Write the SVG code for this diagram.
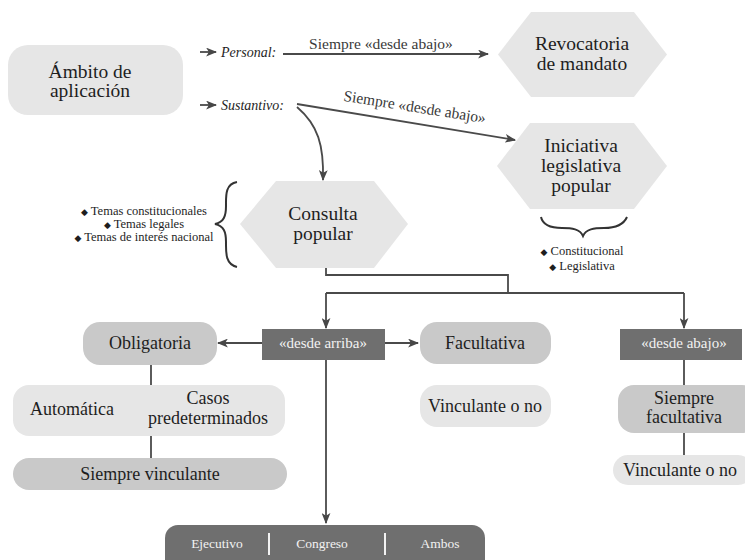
<svg xmlns="http://www.w3.org/2000/svg" width="745" height="560" viewBox="0 0 745 560" font-family="'Liberation Serif', 'DejaVu Serif', 'Times New Roman', serif">
<defs>
<marker id="ah" viewBox="0 0 10 8" refX="9" refY="4" markerWidth="11" markerHeight="9" markerUnits="userSpaceOnUse" orient="auto">
<path d="M0,0 L10,4 L0,8 L2.5,4 z" fill="#474747"/>
</marker>
<style>
text{font-family:'Liberation Serif','DejaVu Serif',serif;fill:#1e1e1e;text-anchor:middle}
.big{font-size:19.5px}
.mid{font-size:18px}
.lab{font-size:15.5px;fill:#3a3a3a}
.it{font-size:14px;font-style:italic;text-anchor:start}
.bul{font-size:12.5px}
.dia{font-size:9px}
.wt{font-size:15px;fill:#f2f2f2}
.wt2{font-size:13.5px;fill:#f2f2f2}
.light{fill:#e6e6e6}
.medium{fill:#c9c9c9}
.dark{fill:#6f6f6f}
.ln{fill:none;stroke:#4a4a4a;stroke-width:1.8}
.arr{fill:none;stroke:#4a4a4a;stroke-width:1.8;marker-end:url(#ah)}
.brace{fill:none;stroke:#333;stroke-width:2}
</style>
</defs>

<g id="connectors">
<path class="arr" d="M200,52 L216,52"/>
<path class="arr" d="M200,105 L216,105"/>
<path class="arr" d="M283,54 L488,54"/>
<path class="arr" d="M297,104 L515,140"/>
<path class="arr" d="M297,107 C318,125 324,145 323,180"/>
<path class="ln" d="M326,268 L326,275 L508,275 L508,293"/>
<path class="ln" d="M326,293 L684,293"/>
<path class="arr" d="M326,293 L326,328"/>
<path class="arr" d="M684,293 L684,328"/>
<path class="arr" d="M262,343 L218,343"/>
<path class="arr" d="M385,343 L418,343"/>
<path class="arr" d="M326,360 L326,523"/>
<path class="ln" d="M151,365 L151,385"/>
<path class="ln" d="M151,436 L151,458"/>
<path class="ln" d="M684,360 L684,385"/>
<path class="ln" d="M684,433 L684,455"/>
<text class="lab" x="381" y="49">Siempre «desde abajo»</text>
<text class="lab" x="414" y="112" transform="rotate(9 414 112)">Siempre «desde abajo»</text>
<text class="it" x="221" y="57">Personal:</text>
<text class="it" x="221" y="110">Sustantivo:</text>
</g>

<g id="ambito">
<rect class="light" x="8" y="45" width="175" height="70" rx="20"/>
<text class="big" x="90" y="78">Ámbito de</text>
<text class="big" x="90" y="97">aplicación</text>
</g>

<g id="revocatoria">
<polygon class="light" points="498,54.5 531,12 634,12 667,54.5 634,97 531,97"/>
<text class="big" x="582" y="50">Revocatoria</text>
<text class="big" x="582" y="70">de mandato</text>
</g>

<g id="iniciativa">
<polygon class="light" points="497,166 530,123 634,123 667,166 634,209 530,209"/>
<text class="big" x="581" y="152">Iniciativa</text>
<text class="big" x="581" y="172">legislativa</text>
<text class="big" x="581" y="192">popular</text>
</g>

<g id="iniciativa-tipos">
<path class="brace" d="M541,217 C543,226 552,228 562,228 C572,228 580,229 583,236 C586,229 594,228 604,228 C614,228 623,226 627,217"/>
<text class="bul" x="582" y="255"><tspan class="dia">◆</tspan> Constitucional</text>
<text class="bul" x="582" y="270"><tspan class="dia">◆</tspan> Legislativa</text>
</g>

<g id="consulta">
<polygon class="light" points="240,224 276,181 374,181 408,224 374,268 276,268"/>
<text class="big" x="323" y="220">Consulta</text>
<text class="big" x="323" y="240">popular</text>
</g>

<g id="consulta-temas">
<path class="brace" d="M237,182 C225,184 226,196 226,206 C226,216 224,222 215,224 C224,226 226,232 226,242 C226,252 225,264 237,267"/>
<text class="bul" x="144" y="215"><tspan class="dia">◆</tspan> Temas constitucionales</text>
<text class="bul" x="144" y="228"><tspan class="dia">◆</tspan> Temas legales</text>
<text class="bul" x="144" y="241"><tspan class="dia">◆</tspan> Temas de interés nacional</text>
</g>

<g id="desde-arriba">
<rect class="dark" x="262" y="329" width="123" height="31"/>
<text class="wt" x="323" y="348">«desde arriba»</text>
</g>

<g id="obligatoria">
<rect class="medium" x="83" y="322" width="134" height="43" rx="17"/>
<text class="mid" x="150" y="349">Obligatoria</text>
</g>

<g id="automatica">
<rect class="light" x="13" y="385" width="272" height="51" rx="16"/>
<text class="mid" x="72" y="415">Automática</text>
<text class="mid" x="208" y="404">Casos</text>
<text class="mid" x="208" y="424">predeterminados</text>
</g>

<g id="siempre-vinculante">
<rect class="medium" x="13" y="458" width="274" height="32" rx="16"/>
<text class="mid" x="150" y="480">Siempre vinculante</text>
</g>

<g id="facultativa">
<rect class="medium" x="420" y="322" width="131" height="42" rx="17"/>
<text class="mid" x="485" y="349">Facultativa</text>
</g>

<g id="vinculante-medio">
<rect class="light" x="420" y="385" width="131" height="42" rx="17"/>
<text class="mid" x="485" y="412">Vinculante o no</text>
</g>

<g id="desde-abajo">
<rect class="dark" x="620" y="329" width="122" height="31"/>
<text class="wt" x="684" y="348">«desde abajo»</text>
</g>

<g id="siempre-facultativa">
<rect class="medium" x="618" y="385" width="140" height="48" rx="16"/>
<text class="mid" x="684" y="404">Siempre</text>
<text class="mid" x="684" y="423">facultativa</text>
</g>

<g id="vinculante-derecha">
<rect class="light" x="613" y="455" width="140" height="30" rx="15"/>
<text class="mid" x="680" y="476">Vinculante o no</text>
</g>

<g id="proponentes">
<rect class="dark" x="165" y="525" width="320" height="50" rx="13"/>
<line x1="269" y1="533" x2="269" y2="555" stroke="#f2f2f2" stroke-width="2"/>
<line x1="385" y1="533" x2="385" y2="555" stroke="#f2f2f2" stroke-width="2"/>
<text class="wt2" x="217" y="548">Ejecutivo</text>
<text class="wt2" x="322" y="548">Congreso</text>
<text class="wt2" x="440" y="548">Ambos</text>
</g>
</svg>
